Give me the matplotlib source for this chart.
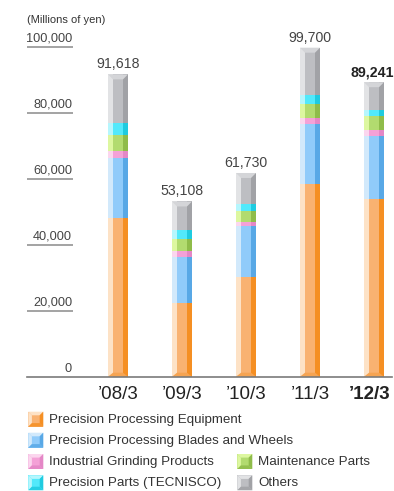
import matplotlib
matplotlib.use("Agg")
import matplotlib.pyplot as plt
from matplotlib.patches import Polygon, Rectangle

plt.rcParams['font.family'] = ['Liberation Sans', 'DejaVu Sans']

# Net sales by product (millions of yen)
years = ["\u201908/3", "\u201909/3", "\u201910/3", "\u201911/3", "\u201912/3"]
totals = [91618, 53108, 61730, 99700, 89241]
equipment = [48100, 22300, 30100, 58500, 53800]
blades = [18200, 13900, 15600, 18100, 19200]
grinding = [2200, 1900, 1200, 1800, 1800]
maintenance = [4800, 3500, 3200, 4200, 4100]
tecnisco = [3700, 3000, 2300, 2800, 2000]
others = [14618, 8508, 9330, 14300, 8341]
y_ticks = [0, 20000, 40000, 60000, 80000, 100000]

series = [
    ("Precision Processing Equipment", equipment, ('#FDE2C6', '#F9B271', '#F58F23')),
    ("Precision Processing Blades and Wheels", blades, ('#D2E9FB', '#90CBFA', '#58A8E6')),
    ("Industrial Grinding Products", grinding, ('#FBD6EE', '#F4A1D7', '#E487C6')),
    ("Maintenance Parts", maintenance, ('#DDF7A0', '#B2DB6F', '#8FBC4A')),
    ("Precision Parts (TECNISCO)", tecnisco, ('#B6F6FD', '#52E9FB', '#1FCBE0')),
    ("Others", others, ('#E2E3E5', '#BDBEC2', '#A1A2A6')),
]

W, H = 394, 491
fig = plt.figure(figsize=(W / 100, H / 100), dpi=100)

# main plotting area in pixel terms
px_left, px_right = 27, 392
px_zero, px_top = 376.7, 46.7
ax = fig.add_axes([px_left / W, (H - px_zero) / H,
                   (px_right - px_left) / W, (px_zero - px_top) / H])
unit = 64.0  # pixels between bar centres
x0 = -(118 - px_left) / unit
ax.set_xlim(x0, x0 + (px_right - px_left) / unit)
ax.set_ylim(0, 100000)
vpp = 100000 / (px_zero - px_top)  # value per pixel

for s in ['top', 'right', 'left']:
    ax.spines[s].set_visible(False)
ax.spines['bottom'].set_color('#7a7a7a')
ax.spines['bottom'].set_linewidth(1.2)
ax.set_xticks([])
ax.set_yticks([])

xs = list(range(len(years)))
lw, mw = 5 / unit, 10 / unit
bottoms = [0] * len(xs)
for name, vals, (c_l, c_m, c_r) in series:
    kw = dict(bottom=bottoms, linewidth=0, edgecolor='none', align='center')
    ax.bar([x - (mw + lw) / 2 for x in xs], vals, width=lw * 1.02, color=c_l, **kw)
    ax.bar(xs, vals, width=mw * 1.02, color=c_m, **kw)
    ax.bar([x + (mw + lw) / 2 for x in xs], vals, width=lw * 1.02, color=c_r, **kw)
    bottoms = [b + v for b, v in zip(bottoms, vals)]

half = (mw / 2 + lw)
for i, t in enumerate(bottoms):
    # bevelled cap at the top of each bar
    h = 5 * vpp
    ax.add_patch(Polygon([(i - half, t), (i + half, t), (i + mw / 2, t - h), (i - mw / 2, t - h)],
                         closed=True, facecolor='#D4D5D8', edgecolor='none'))
    # bevelled foot at the bottom
    hb = 4 * vpp
    ax.add_patch(Polygon([(i - half, 0), (i + half, 0), (i + mw / 2, hb), (i - mw / 2, hb)],
                         closed=True, facecolor='#F6A452', edgecolor='none', clip_on=False))

# total labels
for i, t in enumerate(totals):
    bold = i == len(totals) - 1
    ax.annotate(f"{t:,}", xy=(i, bottoms[i]), xytext=(-1.0 if bold else 0, 4.3),
                textcoords='offset points',
                ha='center', va='baseline', fontsize=10.2,
                fontweight='bold' if bold else 'normal',
                color='#222222' if bold else '#444444', annotation_clip=False)

# year labels
for i, y in enumerate(years):
    bold = i == len(years) - 1
    ax.annotate(y, xy=(i, 0), xytext=(-3.0 if bold else 0, -16.3), textcoords='offset points',
                ha='center', va='baseline', fontsize=13.5,
                fontweight='bold' if bold else 'normal', color='#222222',
                annotation_clip=False)

# value axis labels with underlines
lab_x = (72 - px_left) / (px_right - px_left)
for v in y_ticks:
    ax.annotate(f"{v:,}", xy=(lab_x, v), xycoords=('axes fraction', 'data'),
                xytext=(0, 3.4), textcoords='offset points',
                ha='right', va='baseline', fontsize=9.2, color='#444444',
                annotation_clip=False)
    if v > 0:
        ax.plot([0, lab_x + 0.003], [v, v], transform=ax.get_yaxis_transform(),
                color='#8a8a8a', lw=1.1, clip_on=False, solid_capstyle='butt')

# overlay for unit note and legend, in pixel coordinates
ov = fig.add_axes([0, 0, 1, 1], facecolor='none')
ov.set_xlim(0, W)
ov.set_ylim(H, 0)
ov.axis('off')

ov.text(26.7, 20, "(Millions of yen)", ha='left', va='center', fontsize=8, color='#333333')


def bevel_icon(axo, x, y, size, cols):
    c_l, c_m, c_r = cols
    b = size * 0.24
    x1, y1 = x + size, y + size
    axo.add_patch(Rectangle((x, y), size, size, facecolor=c_m, edgecolor='none'))
    axo.add_patch(Polygon([(x, y), (x1, y), (x1 - b, y + b), (x + b, y + b)], facecolor=c_l, edgecolor='none'))
    axo.add_patch(Polygon([(x, y), (x + b, y + b), (x + b, y1 - b), (x, y1)], facecolor=c_l, edgecolor='none'))
    axo.add_patch(Polygon([(x1, y), (x1, y1), (x1 - b, y1 - b), (x1 - b, y + b)], facecolor=c_r, edgecolor='none'))
    axo.add_patch(Polygon([(x, y1), (x1, y1), (x1 - b, y1 - b), (x + b, y1 - b)], facecolor=c_r, edgecolor='none', alpha=0.85))


legend_pos = [(28.3, 411.7), (28.3, 432.7), (28.3, 454.0), (237.3, 454.0), (28.3, 475.3), (237.3, 475.3)]
for (name, _, cols), (lx, ly) in zip(series, legend_pos):
    bevel_icon(ov, lx, ly, 15, cols)
    ov.text(lx + 21, ly + 8, name, ha='left', va='center', fontsize=9.6, color='#333333')

fig.savefig("out.png", dpi=100)
